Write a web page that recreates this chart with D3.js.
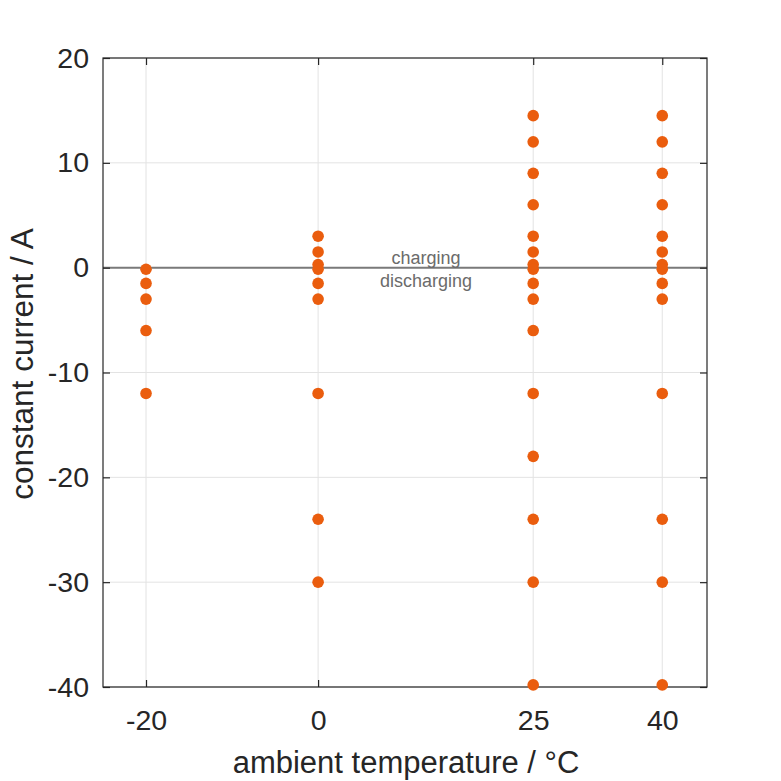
<!DOCTYPE html>
<html>
<head>
<meta charset="utf-8">
<script src="https://cdn.jsdelivr.net/npm/d3@7"></script>
<style>
  html, body { margin: 0; padding: 0; background: #fff; }
  svg { display: block; font-family: "Liberation Sans", Arial, Helvetica, sans-serif; }
</style>
</head>
<body>
<svg id="chart" width="781" height="781"></svg>
<script>
// ---- data ----
const temperatures = [-20, 0, 25, 40];
const currentsM20 = [-0.15, -1.5, -3, -6, -12];
const currents0 = [3, 1.5, 0.3, -0.15, -1.5, -3, -12, -24, -30];
const currents25 = [14.5, 12, 9, 6, 3, 1.5, 0.3, -0.15, -1.5, -3, -6, -12, -18, -24, -30, -39.8];
const currents40 = [14.5, 12, 9, 6, 3, 1.5, 0.3, -0.15, -1.5, -3, -12, -24, -30, -39.8];
const xTicks = [-20, 0, 25, 40];
const yTicks = [20, 10, 0, -10, -20, -30, -40];
const xLabel = "ambient temperature / °C";
const yLabel = "constant current / A";
const aboveLabel = "charging";
const belowLabel = "discharging";

const seriesByTemp = [currentsM20, currents0, currents25, currents40];
const points = [];
temperatures.forEach((t, i) => seriesByTemp[i].forEach(c => points.push({ t, c })));

// ---- layout ----
const L = 103, R = 707, T = 58, B = 687;
const svg = d3.select("#chart");
const x = d3.scaleLinear().domain([-25, 45.2]).range([L, R]);
const y = d3.scaleLinear().domain([-40, 20]).range([B, T]);

const axisColor = "#262626";
const gridColor = "#e3e3e3";
const dotColor = "#EA5D0E";
const tickLen = 7;
const fmt = d => String(d);

// grid
const grid = svg.append("g");
grid.selectAll(".gx").data(xTicks).join("line")
  .attr("x1", d => x(d)).attr("x2", d => x(d))
  .attr("y1", T).attr("y2", B)
  .attr("stroke", gridColor).attr("stroke-width", 1);
grid.selectAll(".gy").data(yTicks).join("line")
  .attr("x1", L).attr("x2", R)
  .attr("y1", d => y(d)).attr("y2", d => y(d))
  .attr("stroke", gridColor).attr("stroke-width", 1);

// zero line
svg.append("line")
  .attr("x1", L).attr("x2", R)
  .attr("y1", y(0)).attr("y2", y(0))
  .attr("stroke", "#7a7a7a").attr("stroke-width", 2);

// axes (inward ticks, all four sides)
const fs = 28.5;
const bottomAxis = d3.axisBottom(x).tickValues(xTicks).tickFormat(fmt).tickSizeInner(-tickLen).tickSizeOuter(0).tickPadding(23);
const topAxis = d3.axisTop(x).tickValues(xTicks).tickSizeInner(-tickLen).tickSizeOuter(0).tickFormat("");
const leftAxis = d3.axisLeft(y).tickValues(yTicks).tickFormat(fmt).tickSizeInner(-tickLen).tickSizeOuter(0).tickPadding(14);
const rightAxis = d3.axisRight(y).tickValues(yTicks).tickSizeInner(-tickLen).tickSizeOuter(0).tickFormat("");

function styleAxis(g) {
  g.select(".domain").remove();
  g.selectAll(".tick line").attr("stroke", axisColor).attr("stroke-width", 1.2);
  g.selectAll(".tick text").attr("fill", axisColor).attr("font-size", fs)
    .attr("font-family", "Liberation Sans, Arial, sans-serif");
}
svg.append("g").attr("transform", `translate(0,${B})`).call(bottomAxis).call(styleAxis);
svg.append("g").attr("transform", `translate(0,${T})`).call(topAxis).call(styleAxis);
svg.append("g").attr("transform", `translate(${L},0)`).call(leftAxis).call(styleAxis);
svg.append("g").attr("transform", `translate(${R},0)`).call(rightAxis).call(styleAxis);

// box
svg.append("rect")
  .attr("x", L).attr("y", T).attr("width", R - L).attr("height", B - T)
  .attr("fill", "none").attr("stroke", axisColor).attr("stroke-width", 1.2);

// points
svg.append("g").selectAll("circle").data(points).join("circle")
  .attr("cx", d => x(d.t)).attr("cy", d => y(d.c))
  .attr("r", 5.8).attr("fill", dotColor);

// annotations
const annX = 426;
svg.append("text").attr("x", annX).attr("y", y(0) - 4)
  .attr("text-anchor", "middle").attr("font-size", 18).attr("fill", "#6b6b6b")
  .text(aboveLabel);
svg.append("text").attr("x", annX).attr("y", y(0) + 19)
  .attr("text-anchor", "middle").attr("font-size", 18).attr("fill", "#6b6b6b")
  .text(belowLabel);

// axis labels
svg.append("text").attr("x", (L + R) / 2 + 1).attr("y", 773)
  .attr("text-anchor", "middle").attr("font-size", 31).attr("fill", axisColor)
  .text(xLabel);
svg.append("text")
  .attr("transform", `translate(33,364) rotate(-90)`)
  .attr("text-anchor", "middle").attr("font-size", 31.5).attr("fill", axisColor)
  .text(yLabel);
</script>
</body>
</html>
